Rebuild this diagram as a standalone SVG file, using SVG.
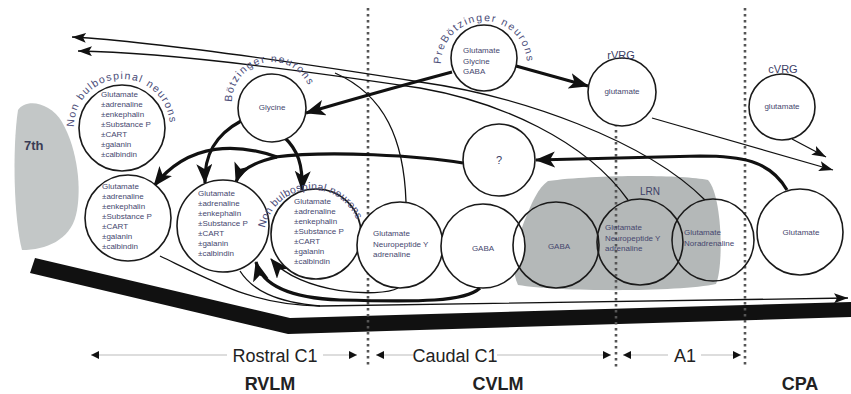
<svg xmlns="http://www.w3.org/2000/svg" width="851" height="394" viewBox="0 0 851 394">
<style>
.c{fill:none;stroke:#1a1a1a;stroke-width:1.6}
.cw{fill:#fff;stroke:#1a1a1a;stroke-width:1.6}
.t{font-family:"Liberation Sans",Arial,sans-serif;font-size:8px;fill:#45476e}
.arc{font-family:"Liberation Sans",Arial,sans-serif;font-size:10.5px;fill:#4a4c78}
.thick{fill:none;stroke:#111;stroke-width:3.2}
.thin{fill:none;stroke:#111;stroke-width:1.3}
.dot{stroke:#555;stroke-width:2.6;stroke-dasharray:2.6 3.4;fill:none}
.lab{font-family:"Liberation Sans Narrow","Liberation Sans",Arial,sans-serif;font-size:18px;fill:#222}
.bold{font-family:"Liberation Sans Narrow","Liberation Sans",Arial,sans-serif;font-size:18px;font-weight:bold;fill:#222}
.gl{stroke:#bbb;stroke-width:1.2;fill:none}
</style>
<defs>
<marker id="big" markerUnits="userSpaceOnUse" markerWidth="22" markerHeight="18" refX="19" refY="8" orient="auto"><path d="M0,0 L20,8 L0,16 L5,8 Z" fill="#111"/></marker>
<marker id="mid" markerUnits="userSpaceOnUse" markerWidth="16" markerHeight="12" refX="14" refY="5" orient="auto"><path d="M0,0 L14,5 L0,10 L3,5 Z" fill="#111"/></marker>
<marker id="sm" markerUnits="userSpaceOnUse" markerWidth="9" markerHeight="9" refX="8" refY="4" orient="auto-start-reverse"><path d="M0,0 L8,4 L0,8 Z" fill="#111"/></marker>
<path id="a1" d="M74,127 A48,48 0 0 1 170,127"/>
<path id="a2" d="M232,102 A40,40 0 0 1 312,102"/>
<path id="a3" d="M441,64 A43,43 0 0 1 527,64"/>
<path id="a4" d="M265,228 A48,48 0 0 1 359,228"/>
</defs>
<rect width="851" height="394" fill="#fff"/>

<g id="seventh">
<path d="M18,110 C26,98 50,102 62,122 C78,150 82,190 76,215 C70,240 46,250 22,250 C14,220 12,150 18,110 Z" fill="#c3c7c7"/>
<text x="24" y="150" style="font-family:'Liberation Sans',Arial,sans-serif;font-size:13px;font-weight:bold;fill:#3a3c55">7th</text>
</g>
<g id="lrn">
<path d="M548,181 C590,175 680,174 708,180 C722,195 724,265 716,284 C680,292 560,292 518,285 C510,268 515,245 524,222 C532,202 538,188 548,181 Z" fill="#b4b8b8"/>
<text x="650" y="195" text-anchor="middle" style="font-family:'Liberation Sans',Arial,sans-serif;font-size:10px;fill:#3c3e66">LRN</text>
</g>

<g id="band"><path d="M35,258 L290,318 L851,302 L851,317 L288,334 L30,273 Z" fill="#111"/></g>
<g id="dividers">
<path class="dot" d="M368,8 V368"/>
<path class="dot" d="M616,58 V368"/>
<path class="dot" d="M745,8 V368"/>
</g>

<g id="connectors">
<path class="thin" d="M705,200 C645,140 520,96 420,82 C300,63 160,42 72,37" marker-end="url(#mid)"/>
<path class="thin" d="M628,200 C585,140 500,102 420,88 C300,70 160,52 78,51" marker-end="url(#mid)"/>
<path class="thin" d="M406,202 C404,140 385,95 335,73"/>
<path class="thin" d="M652,118 L833,170" marker-end="url(#mid)"/>
<path class="thin" d="M792,139 L826,157" marker-end="url(#mid)"/>
<path class="thin" d="M160,256 C220,285 255,305 320,306 L848,298" marker-end="url(#mid)"/>
<path class="thin" d="M240,271 C252,290 275,302 320,306"/>
<path class="thick" d="M516,66 L588,86" marker-end="url(#big)"/>
<path class="thick" d="M452,72 C400,86 350,100 306,113" marker-end="url(#big)"/>
<path class="thick" d="M241,121 C215,135 204,155 205,183" marker-end="url(#big)"/>
<path class="thick" d="M284,137 C298,150 303,165 302,190" marker-end="url(#big)"/>
<path class="thick" d="M787,190 C770,160 740,156 700,156 L536,160" marker-end="url(#big)"/>
<path class="thick" d="M463,163 C420,156 330,150 275,157"/>
<path class="thick" d="M277,157 C254,162 240,170 236,182" marker-end="url(#big)"/>
<path class="thick" d="M277,157 C240,144 190,140 154,186" marker-end="url(#big)"/>
<path class="thick" d="M480,288 C465,302 420,302 340,300 C290,298 262,285 256,262" marker-end="url(#big)"/>
<path class="thin" d="M398,288 C380,298 300,294 271,259" marker-end="url(#big)"/>
</g>

<g id="nb1">
<circle class="cw" cx="122" cy="128" r="43"/>
<text class="arc"><textPath href="#a1" textLength="146" lengthAdjust="spacing">Non bulbospinal neurons</textPath></text>
<text class="t" x="101" y="97"><tspan x="101">Glutamate</tspan><tspan x="101" dy="10">±adrenaline</tspan><tspan x="101" dy="10">±enkephalin</tspan><tspan x="101" dy="10">±Substance P</tspan><tspan x="101" dy="10">±CART</tspan><tspan x="101" dy="10">±galanin</tspan><tspan x="101" dy="10">±calbindin</tspan></text>
</g>
<g id="c1">
<circle class="cw" cx="128" cy="218" r="43"/>
<text class="t" x="102" y="189"><tspan x="102">Glutamate</tspan><tspan x="102" dy="10">±adrenaline</tspan><tspan x="102" dy="10">±enkephalin</tspan><tspan x="102" dy="10">±Substance P</tspan><tspan x="102" dy="10">±CART</tspan><tspan x="102" dy="10">±galanin</tspan><tspan x="102" dy="10">±calbindin</tspan></text>
</g>
<g id="c2">
<circle class="cw" cx="223" cy="226" r="46"/>
<text class="t" x="198" y="196"><tspan x="198">Glutamate</tspan><tspan x="198" dy="10">±adrenaline</tspan><tspan x="198" dy="10">±enkephalin</tspan><tspan x="198" dy="10">±Substance P</tspan><tspan x="198" dy="10">±CART</tspan><tspan x="198" dy="10">±galanin</tspan><tspan x="198" dy="10">±calbindin</tspan></text>
</g>
<g id="c3">
<circle class="cw" cx="316" cy="234" r="45"/>
<text class="arc"><textPath href="#a4" textLength="122" lengthAdjust="spacing">Non bulbospinal neurons</textPath></text>
<text class="t" x="294" y="204"><tspan x="294">Glutamate</tspan><tspan x="294" dy="10">±adrenaline</tspan><tspan x="294" dy="10">±enkephalin</tspan><tspan x="294" dy="10">±Substance P</tspan><tspan x="294" dy="10">±CART</tspan><tspan x="294" dy="10">±galanin</tspan><tspan x="294" dy="10">±calbindin</tspan></text>
</g>
<g id="botz">
<circle class="cw" cx="272" cy="108" r="34"/>
<text class="arc"><textPath href="#a2" textLength="108" lengthAdjust="spacing">Bötzinger neurons</textPath></text>
<text class="t" x="272" y="110" text-anchor="middle">Glycine</text>
</g>
<g id="prebotz">
<circle class="cw" cx="484" cy="58" r="33"/>
<text class="arc"><textPath href="#a3" textLength="132" lengthAdjust="spacing">PreBötzinger neurons</textPath></text>
<text class="t" x="463" y="53"><tspan x="463">Glutamate</tspan><tspan x="463" dy="10.5">Glycine</tspan><tspan x="463" dy="10.5">GABA</tspan></text>
</g>
<g id="rvrg">
<circle class="cw" cx="622" cy="92" r="34"/>
<text x="621" y="59" text-anchor="middle" style="font-family:'Liberation Sans',Arial,sans-serif;font-size:11px;fill:#3c3e66">rVRG</text>
<text class="t" x="622" y="94" text-anchor="middle">glutamate</text>
</g>
<g id="cvrg">
<circle class="cw" cx="782" cy="107" r="33"/>
<text x="783" y="73" text-anchor="middle" style="font-family:'Liberation Sans',Arial,sans-serif;font-size:11px;fill:#3c3e66">cVRG</text>
<text class="t" x="782" y="109" text-anchor="middle">glutamate</text>
</g>
<g id="q">
<circle class="cw" cx="499" cy="160" r="36"/>
<text x="499" y="164" text-anchor="middle" style="font-family:'Liberation Sans',Arial,sans-serif;font-size:11px;fill:#3c3e66">?</text>
</g>
<g id="c4">
<circle class="cw" cx="400" cy="245" r="43"/>
<text class="t" x="373" y="236"><tspan x="373">Glutamate</tspan><tspan x="373" dy="10.5">Neuropeptide Y</tspan><tspan x="373" dy="10.5">adrenaline</tspan></text>
</g>
<g id="gaba1">
<circle class="cw" cx="483" cy="246" r="42"/>
<text class="t" x="483" y="251" text-anchor="middle">GABA</text>
</g>
<g id="gaba2">
<circle class="c" cx="556" cy="245" r="43"/>
<text class="t" x="559" y="249" text-anchor="middle">GABA</text>
</g>
<g id="lrn1">
<circle class="c" cx="640" cy="242" r="43"/>
<text class="t" x="605" y="230"><tspan x="605">Glutamate</tspan><tspan x="605" dy="10.5">Neuropeptide Y</tspan><tspan x="605" dy="10.5">adrenaline</tspan></text>
</g>
<g id="nora">
<circle class="c" cx="713" cy="240" r="41"/>
<text class="t" x="684" y="235"><tspan x="684">Glutamate</tspan><tspan x="684" dy="10.5">Noradrenaline</tspan></text>
</g>
<g id="cpa">
<circle class="cw" cx="800" cy="232" r="43"/>
<text class="t" x="801" y="235" text-anchor="middle">Glutamate</text>
</g>

<g id="labels">
<path class="gl" d="M91,355 H227" marker-start="url(#sm)"/>
<path class="gl" d="M323,355 H357" marker-end="url(#sm)"/>
<text class="lab" x="275" y="362" text-anchor="middle">Rostral C1</text>
<path class="gl" d="M376,355 H413" marker-start="url(#sm)"/>
<path class="gl" d="M497,355 H611" marker-end="url(#sm)"/>
<text class="lab" x="455" y="362" text-anchor="middle">Caudal C1</text>
<path class="gl" d="M623,355 H668" marker-start="url(#sm)"/>
<path class="gl" d="M701,355 H741" marker-end="url(#sm)"/>
<text class="lab" x="685" y="362" text-anchor="middle">A1</text>
<text class="bold" x="270" y="390" text-anchor="middle">RVLM</text>
<text class="bold" x="498" y="390" text-anchor="middle">CVLM</text>
<text class="bold" x="800" y="390" text-anchor="middle">CPA</text>
</g>
</svg>
